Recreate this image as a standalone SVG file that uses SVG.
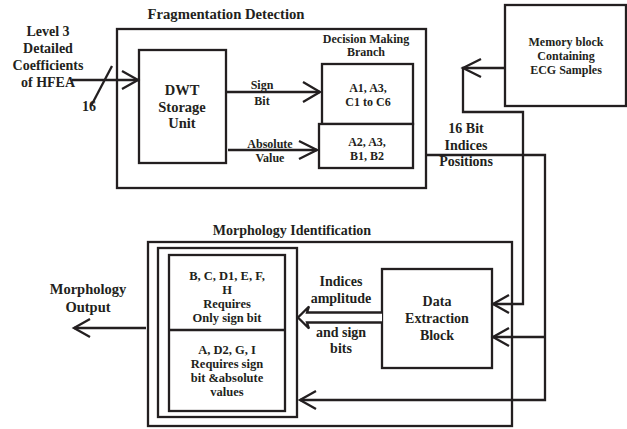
<svg xmlns="http://www.w3.org/2000/svg" width="627" height="429" viewBox="0 0 627 429">
<style>
.b{fill:none;stroke:#231f20;stroke-width:2.3}
.w{fill:#fff;stroke:#231f20;stroke-width:2.3}
.l{fill:none;stroke:#231f20;stroke-width:2.3;stroke-linejoin:miter}
text{font-family:"Liberation Serif","Times New Roman",serif;font-weight:bold;fill:#231f20;text-anchor:middle}
.s12{font-size:12px}
.s13{font-size:12.5px}
.s14{font-size:14px}
.s145{font-size:14.5px}
</style>
<rect width="627" height="429" fill="#fff"/>
<g id="fragmentation-detection">
<rect class="b" x="117" y="29" width="309" height="159"/>
<text x="226" y="19" style="font-size:14.7px">Fragmentation Detection</text>
</g>
<g id="input-label">
<text class="s14" x="48" y="36">Level 3</text>
<text class="s14" x="48" y="53">Detailed</text>
<text class="s14" x="48" y="70">Coefficients</text>
<text class="s14" x="48" y="87">of HFEA</text>
<text class="s14" x="89" y="111">16</text>
</g>
<g id="dwt-storage">
<rect class="b" x="139" y="50" width="87" height="113"/>
<text class="s145" x="182" y="95">DWT</text>
<text class="s145" x="182" y="112">Storage</text>
<text class="s145" x="182" y="128">Unit</text>
</g>
<g id="decision-making">
<text class="s12" x="366" y="43">Decision Making</text>
<text class="s12" x="366" y="56">Branch</text>
</g>
<g id="branch-a1">
<rect class="b" x="322" y="64" width="91" height="60"/>
<text class="s12" x="368" y="92">A1, A3,</text>
<text class="s12" x="368" y="106">C1 to C6</text>
</g>
<g id="branch-a2">
<rect class="w" x="319" y="124" width="94" height="44"/>
<text class="s12" x="367" y="146">A2, A3,</text>
<text class="s12" x="367" y="160">B1, B2</text>
</g>
<g id="memory-block">
<rect class="b" x="505" y="5" width="121" height="101"/>
<text class="s12" x="566" y="46">Memory block</text>
<text class="s12" x="566" y="60">Containing</text>
<text class="s12" x="566" y="74">ECG Samples</text>
</g>
<g id="morphology-identification">
<rect class="b" x="148" y="242" width="364" height="184"/>
<text class="s14" x="292" y="235">Morphology Identification</text>
</g>
<g id="morphology-inner">
<rect class="b" x="158" y="248" width="139" height="169"/>
<rect class="b" x="169" y="255" width="116" height="156"/>
<line class="l" x1="169" y1="330" x2="285" y2="330"/>
<text class="s13" x="227" y="280">B, C, D1, E, F,</text>
<text class="s13" x="227" y="294">H</text>
<text class="s13" x="227" y="308">Requires</text>
<text class="s13" x="227" y="322">Only sign bit</text>
<text class="s13" x="227" y="354">A, D2, G, I</text>
<text class="s13" x="227" y="368">Requires sign</text>
<text class="s13" x="227" y="382">bit &amp;absolute</text>
<text class="s13" x="227" y="396">values</text>
</g>
<g id="data-extraction">
<rect class="b" x="382" y="269" width="110" height="99"/>
<text class="s14" x="437" y="306">Data</text>
<text class="s14" x="437" y="323">Extraction</text>
<text class="s14" x="437" y="340">Block</text>
</g>
<g id="labels">
<text class="s12" x="262" y="89">Sign</text>
<text class="s12" x="262" y="105">Bit</text>
<text class="s12" x="270" y="148">Absolute</text>
<text class="s12" x="270" y="162">Value</text>
<text class="s14" x="466" y="133">16 Bit</text>
<text class="s14" x="466" y="150">Indices</text>
<text class="s14" x="466" y="166">Positions</text>
<text class="s14" x="341" y="286">Indices</text>
<text class="s14" x="341" y="303">amplitude</text>
<text class="s14" x="341" y="337">and sign</text>
<text class="s14" x="341" y="353">bits</text>
<text class="s145" x="88" y="294">Morphology</text>
<text class="s145" x="88" y="312">Output</text>
</g>
<g id="connectors">
<line class="l" x1="72" y1="80" x2="138" y2="80"/>
<polyline class="l" points="122,71 138,80 122,89"/>
<line class="l" x1="91" y1="106" x2="112" y2="66"/>
<line class="l" x1="226" y1="92" x2="320" y2="92"/>
<polyline class="l" points="303,82 320,92 303,102"/>
<line class="l" x1="228" y1="150" x2="317" y2="150"/>
<polyline class="l" points="299,141 317,150 299,159"/>
<polyline class="l" points="505,68 463,68 463,112 523,112 523,304 493,304"/>
<polyline class="l" points="481,59 463,68 481,77"/>
<polyline class="l" points="509,295 493,304 509,313"/>
<polyline class="l" points="426,155 545,155 545,400 300,400"/>
<line class="l" x1="545" y1="337" x2="493" y2="337"/>
<polyline class="l" points="509,328 493,337 509,346"/>
<polyline class="l" points="316,391 300,400 316,409"/>
<path class="w" d="M382,312.5 L307,312.5 L309,306.5 L298,317.5 L309,328.5 L307,322.5 L382,322.5"/>
<line class="l" x1="146" y1="328" x2="74" y2="328"/>
<polyline class="l" points="90,319 74,328 90,337"/>
</g>
</svg>
